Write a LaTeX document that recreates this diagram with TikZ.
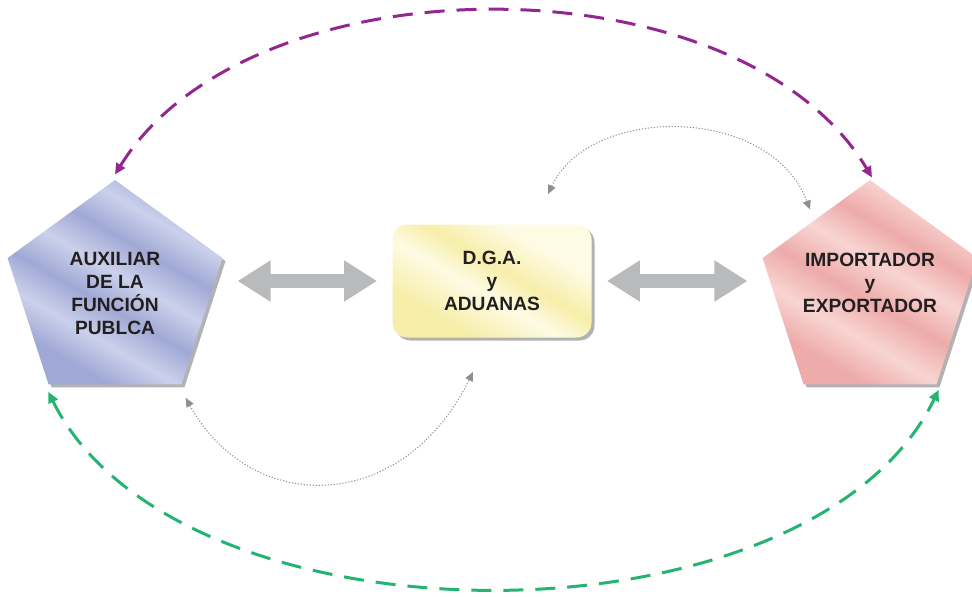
\documentclass[tikz,border=0pt]{standalone}
\usepackage{fontspec}
\setmainfont{Liberation Sans}
\usetikzlibrary{shapes.geometric,arrows.meta,calc,shadows}

\definecolor{bluedark}{HTML}{A0A9D5}
\definecolor{bluelight}{HTML}{CBD1EB}
\definecolor{pinkdark}{HTML}{EDABAA}
\definecolor{pinklight}{HTML}{F8D5D2}
\definecolor{yellowdark}{HTML}{F7EEAA}
\definecolor{yellowlight}{HTML}{FDFBE4}
\definecolor{arrowgray}{HTML}{B9BABC}
\definecolor{dotgray}{HTML}{8E8F91}
\definecolor{arcpurple}{HTML}{93278F}
\definecolor{arcgreen}{HTML}{25B371}
\definecolor{textgray}{HTML}{231F20}

\pgfdeclarehorizontalshading{bluemetal}{100bp}{color(0bp)=(bluedark); color(28bp)=(bluedark); color(36bp)=(bluelight); color(44bp)=(bluedark); color(52bp)=(bluelight); color(60bp)=(bluedark); color(68bp)=(bluelight); color(76bp)=(bluedark); color(100bp)=(bluedark)}
\pgfdeclarehorizontalshading{pinkmetal}{100bp}{color(0bp)=(pinkdark); color(28bp)=(pinkdark); color(37bp)=(pinklight); color(46bp)=(pinkdark); color(55bp)=(pinklight); color(63bp)=(pinkdark); color(72bp)=(pinklight); color(100bp)=(pinklight)}
\pgfdeclarehorizontalshading{yellowmetal}{100bp}{color(0bp)=(yellowdark); color(30bp)=(yellowdark); color(45bp)=(yellowlight); color(55bp)=(yellowdark); color(68bp)=(yellowlight); color(100bp)=(yellowlight)}

\begin{document}
\begin{tikzpicture}[x=0.5pt,y=-0.5pt,
    every node/.append style={font=\fontsize{9.6}{11.5}\selectfont\bfseries, text=textgray, align=center},
    penta/.style={regular polygon, regular polygon sides=5, minimum size=113pt, inner sep=-10pt, shading angle=60,
      drop shadow={shadow xshift=1.5pt, shadow yshift=-1.5pt, fill=black, opacity=0.3}},
    board/.style={rectangle, rounded corners=7.5pt, minimum width=99.5pt, minimum height=56.5pt, shading=yellowmetal, shading angle=60,
      drop shadow={shadow xshift=1.5pt, shadow yshift=-1.5pt, fill=black, opacity=0.3}},
    bigarrow/.style={line width=7pt, draw=arrowgray, {Triangle[length=16.5pt,width=19.5pt]}-{Triangle[length=16.5pt,width=19.5pt]}},
    purplearc/.style={line width=1.5pt, draw=arcpurple, dash pattern=on 10pt off 6pt, {Triangle[length=5.5pt,width=5pt]}-{Triangle[length=5.5pt,width=5pt]}},
    greenarc/.style={purplearc, draw=arcgreen},
    dotarc/.style={line width=0.5pt, draw=dotgray, dash pattern=on 0.6pt off 0.9pt, {Triangle[length=4.5pt,width=4pt]}-{Triangle[length=4.5pt,width=4pt]}}]

  \useasboundingbox (0,0) rectangle (972,596);

  \node(aux)[penta, shading=bluemetal] at (115,293) {AUXILIAR\\DE LA\\FUNCIÓN\\PUBLCA};
  \node(dga)[board] at (492,281) {D.G.A.\\y\\ADUANAS};
  \node(imp)[penta, shading=pinkmetal] at (870,293) {IMPORTADOR\\y\\EXPORTADOR\\[-1.5pt]};

  \draw[bigarrow, shorten <=13pt, shorten >=7.5pt] (aux.east |- dga.west) -- (dga.west);
  \draw[bigarrow, shorten <=7.5pt, shorten >=13pt] (dga.east) -- (dga.east -| imp.west);

  \draw[purplearc] ($(aux.north)+(0,-5)$) .. controls +(135,-218) and +(-132,-221) .. ($(imp.north)+(2,-2)$);
  \draw[greenarc] ($(aux.corner 3)+(0,7)$) .. controls +(130,262) and +(-128,264) .. ($(imp.corner 4)+(2,5)$);
  \draw[dotarc] ($(dga.north)+(56,-30)$) .. controls +(42,-90) and +(-40,-105) .. ($(imp.north)+(-60,30)$);
  \draw[dotarc] ($(aux.corner 4)+(4,13)$) .. controls +(65,118) and +(-71,144) .. ($(dga.south)+(-19,34)$);
\end{tikzpicture}
\end{document}
